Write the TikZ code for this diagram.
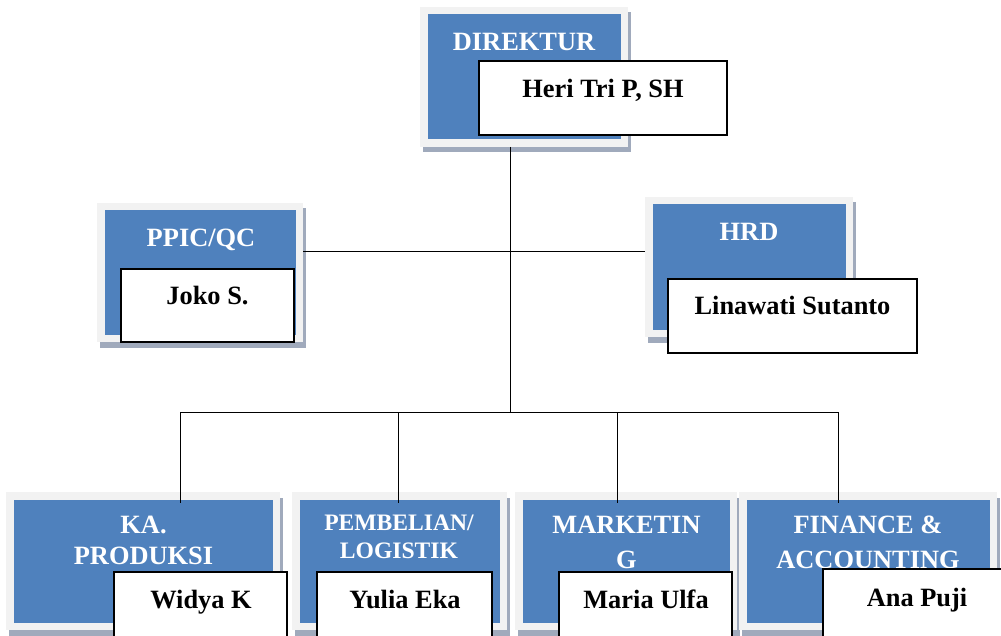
\documentclass[tikz,border=0pt]{standalone}
\usepackage{fontspec}
\setmainfont{Liberation Serif}
\usetikzlibrary{backgrounds,calc}
\definecolor{unitblue}{HTML}{4F81BD}
\definecolor{framegray}{HTML}{F2F2F2}
\definecolor{shadowgray}{RGB}{160,170,188}
\tikzset{
  unit/.style={rectangle, draw=framegray, fill=unitblue, line width=7.5pt, inner sep=0pt},
  title/.style={text=white, font=\bfseries\fontsize{26.4}{31.7}\selectfont, align=center, inner sep=0pt},
  namebox/.style={rectangle, draw=black, fill=white, line width=2pt, inner sep=0pt},
  nametext/.style={text=black, font=\bfseries\fontsize{26.4}{31.7}\selectfont, inner sep=0pt, anchor=base},
  conn/.style={draw=black, line width=0.9pt},
}
\begin{document}
\begin{tikzpicture}[x=1pt,y=-1pt]
\useasboundingbox (0,0) rectangle (1001,636);
\clip (0,0) rectangle (1001,636);

% units (frame + blue)
\node[unit, minimum width=200.5pt, minimum height=132.5pt] (dir)  at (524,77) {};
\node[unit, minimum width=198.5pt, minimum height=131.5pt] (ppic) at (200,272.5) {};
\node[unit, minimum width=200.5pt, minimum height=132.5pt] (hrd)  at (749,267) {};
\node[unit, minimum width=266.5pt, minimum height=130.5pt] (ka)   at (143,561) {};
\node[unit, minimum width=207.5pt, minimum height=130.5pt] (pemb) at (399.5,561) {};
\node[unit, minimum width=214.5pt, minimum height=130.5pt] (mark) at (626,561) {};
\node[unit, minimum width=250.5pt, minimum height=130.5pt] (fin)  at (868,561) {};

% shadows
\begin{scope}[on background layer]
  \foreach \n in {dir,ppic,hrd,ka,pemb,mark,fin}
    \fill[shadowgray] ([shift={(3,5.5)}]\n.north west) rectangle ([shift={(3,5.5)}]\n.south east);
\end{scope}

% titles
\node[title, anchor=base] (dirt)  at (524,50.5) {DIREKTUR};
\node[title, anchor=base] (ppict) at (201,246.5) {PPIC/QC};
\node[title, anchor=base] (hrdt)  at (749,240.5) {HRD};
\node[title] (kat)   at (143.5,540.5) {KA.\\PRODUKSI};
\node[title, font=\bfseries\fontsize{23.6}{27.5}\selectfont] (pembt) at (399,537) {PEMBELIAN/\\LOGISTIK};
\node[title, font=\bfseries\fontsize{26.4}{35}\selectfont] (markt) at (626.5,542) {MARKETIN\\G};
\node[title, font=\bfseries\fontsize{26.4}{35}\selectfont] (fint)  at (868,542) {FINANCE \&\\ACCOUNTING};

% name boxes
\node[namebox, minimum width=248pt, minimum height=74pt] (heri) at (603,98) {};
\node[nametext] (herit) at (603,97.5) {Heri Tri P, SH};
\node[namebox, minimum width=173pt, minimum height=73pt] (joko) at (207.5,305.5) {};
\node[nametext] (jokot) at (207.5,304.5) {Joko S.};
\node[namebox, minimum width=249pt, minimum height=74pt] (lina) at (792.5,316) {};
\node[nametext] (linat) at (792.5,314.5) {Linawati Sutanto};
\node[namebox, minimum width=173pt, minimum height=74pt] (widya) at (200.5,609) {};
\node[nametext] (widyat) at (201,608) {Widya K};
\node[namebox, minimum width=175pt, minimum height=74pt] (yulia) at (404.5,609) {};
\node[nametext] (yuliat) at (405,608) {Yulia Eka};
\node[namebox, minimum width=173pt, minimum height=74pt] (maria) at (645.5,609) {};
\node[nametext] (mariat) at (646,608) {Maria Ulfa};
\node[namebox, minimum width=188pt, minimum height=74pt] (ana) at (917,606) {};
\node[nametext] (anat) at (917,606) {Ana Puji};

% connectors
\coordinate (hub) at (510,412);
\coordinate (mid) at (510,251);
\coordinate (b1) at (180,412);
\coordinate (b2) at (398,412);
\coordinate (b3) at (617,412);
\coordinate (b4) at (838,412);
\draw[conn] (dir.south -| hub) -- (hub);
\draw[conn] (ppic.east |- mid) -- (hrd.west |- mid);
\draw[conn] (b1) -- (b4);
\foreach \b/\n in {b1/ka,b2/pemb,b3/mark,b4/fin}
  \draw[conn] (\b) -- ($(\b |- \n.north)+(0,11)$);
\end{tikzpicture}
\end{document}
